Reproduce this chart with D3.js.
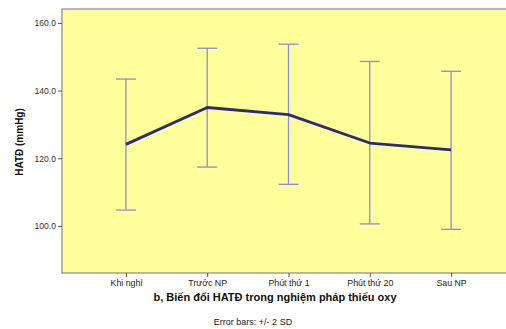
<!DOCTYPE html>
<html>
<head>
<meta charset="utf-8">
<script src="https://cdn.jsdelivr.net/npm/d3@7"></script>
<style>
  html, body { margin: 0; padding: 0; background: #fff; }
  svg { display: block; font-family: "Liberation Sans", Arial, sans-serif; }
</style>
</head>
<body>
<svg id="chart" width="506" height="329"></svg>
<script>
// Systolic blood pressure (mmHg) across the hypoxia test stages
const categories = ["Khi nghỉ", "Trước NP", "Phút thứ 1", "Phút thứ 20", "Sau NP"];
const means = [124.1, 135.0, 132.9, 124.5, 122.5];
const upper = [143.4, 152.5, 153.7, 148.6, 145.7];   // mean + 2 SD
const lower = [104.7, 117.4, 112.3, 100.6, 99.0];    // mean - 2 SD
const yTicks = [100, 120, 140, 160];

const svg = d3.select("#chart");
const plot = { left: 62, top: 9, right: 515, bottom: 273 };

const x = d3.scalePoint()
  .domain(categories)
  .range([plot.left, plot.right])
  .padding(0.7865);

const y = d3.scaleLinear()
  .domain([86.1, 164.1])
  .range([plot.bottom, plot.top]);

// plot background
svg.append("rect")
  .attr("x", plot.left).attr("y", plot.top)
  .attr("width", plot.right - plot.left).attr("height", plot.bottom - plot.top)
  .attr("fill", "#FFFF9B")
  .attr("stroke", "#8a8a8a").attr("stroke-width", 1.2);

// y axis
const yAxis = svg.append("g")
  .attr("transform", `translate(${plot.left},0)`)
  .call(d3.axisLeft(y).tickValues(yTicks).tickFormat(d3.format(".1f")).tickSize(4).tickPadding(2));
yAxis.select(".domain").remove();
yAxis.selectAll("line").attr("stroke", "#555");
yAxis.selectAll("text").attr("font-size", 8.6).attr("fill", "#333")
  .attr("font-family", "Liberation Sans, Arial, sans-serif");

// x axis
const xAxis = svg.append("g")
  .attr("transform", `translate(0,${plot.bottom})`)
  .call(d3.axisBottom(x).tickSize(4).tickPadding(3));
xAxis.select(".domain").remove();
xAxis.selectAll("line").attr("stroke", "#555");
xAxis.selectAll("text").attr("font-size", 8.8).attr("fill", "#222")
  .attr("font-family", "Liberation Sans, Arial, sans-serif");

// error bars (+/- 2 SD)
const eb = svg.append("g").attr("stroke", "#8B8BDF").attr("stroke-width", 1.3).attr("fill", "none");
categories.forEach((c, i) => {
  const cx = x(c);
  eb.append("line").attr("x1", cx).attr("x2", cx).attr("y1", y(upper[i])).attr("y2", y(lower[i]));
  eb.append("line").attr("x1", cx - 10).attr("x2", cx + 10).attr("y1", y(upper[i])).attr("y2", y(upper[i]));
  eb.append("line").attr("x1", cx - 10).attr("x2", cx + 10).attr("y1", y(lower[i])).attr("y2", y(lower[i]));
});

// mean line
const line = d3.line().x((d, i) => x(categories[i])).y(d => y(d));
svg.append("path")
  .datum(means)
  .attr("d", line)
  .attr("fill", "none")
  .attr("stroke", "#2B2B7C")
  .attr("stroke-width", 2.8)
  .attr("stroke-linejoin", "round");

// y axis title
svg.append("text")
  .attr("transform", "translate(23,142) rotate(-90)")
  .attr("text-anchor", "middle")
  .attr("font-size", 10).attr("font-weight", "bold").attr("fill", "#111")
  .text("HATĐ (mmHg)");

// chart title
svg.append("text")
  .attr("x", 275).attr("y", 301)
  .attr("text-anchor", "middle")
  .attr("font-size", 11).attr("font-weight", "bold").attr("fill", "#111")
  .text("b, Biến đổi HATĐ trong nghiệm pháp thiếu oxy");

// footnote
svg.append("text")
  .attr("x", 253).attr("y", 325)
  .attr("text-anchor", "middle")
  .attr("font-size", 9).attr("fill", "#222")
  .text("Error bars: +/- 2 SD");
</script>
</body>
</html>
